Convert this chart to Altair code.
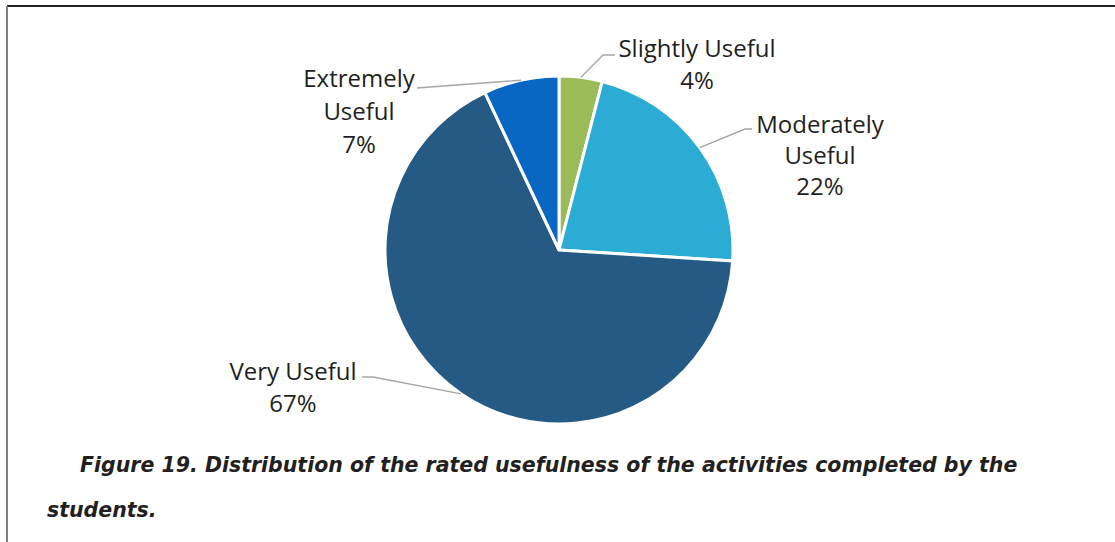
import math
import altair as alt
import pandas as pd

# ---- data ----
CATEGORIES = ["Slightly Useful", "Moderately Useful", "Very Useful", "Extremely Useful"]
PERCENTS = [4, 22, 67, 7]
LABEL_LINES = [["Slightly Useful", "4%"],
               ["Moderately", "Useful", "22%"],
               ["Very Useful", "67%"],
               ["Extremely", "Useful", "7%"]]
COLORS = ["#9BBB59", "#2BACD4", "#255A85", "#0767C2"]
CAPTION = ["Figure 19. Distribution of the rated usefulness of the activities completed by the",
           "students."]

# ---- layout (pixels) ----
W, H = 1115, 542
CX, CY, R = 559, 250, 174
LABEL_POS = [(697, 50, 32), (820, 126, 31), (293, 373, 32), (359, 80, 33)]   # x, first-line y, line height
LEADER_PTS = [[(603, 55), (615, 55)], [(745, 129), (752, 129)],
              [(373, 377), (362, 377)], [(417, 88)]]
FONT = "Open Sans"
CAP_FONT = "DejaVu Sans"

pie_df = pd.DataFrame({"cat": CATEGORIES, "pct": PERCENTS, "idx": range(len(CATEGORIES))})

# leader lines: start on the pie edge at each slice's mid-angle
total = sum(PERCENTS)
rows = []
cum = 0
for i, (cat, p) in enumerate(zip(CATEGORIES, PERCENTS)):
    mid = (cum + p / 2) / total * 2 * math.pi
    cum += p
    pts = [(CX + R * math.sin(mid), CY - R * math.cos(mid))] + LEADER_PTS[i]
    for k, (px, py) in enumerate(pts):
        rows.append({"cat": cat, "k": k, "px": px, "py": py})
lead_df = pd.DataFrame(rows)

lab_rows = []
for i, lines in enumerate(LABEL_LINES):
    lx, ly, lh = LABEL_POS[i]
    for j, t in enumerate(lines):
        lab_rows.append({"t": t, "px": lx, "py": ly + j * lh})
lab_df = pd.DataFrame(lab_rows)

xs = alt.Scale(domain=[0, W], range=[0, W])
ys = alt.Scale(domain=[0, H], range=[0, H])

pie = alt.Chart(pie_df).mark_arc(outerRadius=R, stroke="white", strokeWidth=3).encode(
    theta=alt.Theta("pct:Q", stack=True),
    order=alt.Order("idx:Q"),
    color=alt.Color("cat:N", scale=alt.Scale(domain=CATEGORIES, range=COLORS), legend=None),
    x=alt.value(CX), y=alt.value(CY),
)

leaders = alt.Chart(lead_df).mark_line(color="#A6A6A6", strokeWidth=1.4).encode(
    x=alt.X("px:Q", scale=xs, axis=None),
    y=alt.Y("py:Q", scale=ys, axis=None),
    detail="cat:N",
    order="k:Q",
)

labels = alt.Chart(lab_df).mark_text(font=FONT, fontSize=24, color="#1F1F1F",
                                     align="center", baseline="middle").encode(
    x=alt.X("px:Q", scale=xs, axis=None),
    y=alt.Y("py:Q", scale=ys, axis=None),
    text="t:N",
)

cap1 = alt.Chart(pd.DataFrame({"t": [CAPTION[0]]})).mark_text(
    font=CAP_FONT, fontSize=20.5, fontStyle="italic", fontWeight="bold", color="#231F20",
    align="left", baseline="middle").encode(x=alt.value(80), y=alt.value(466), text="t:N")
cap2 = alt.Chart(pd.DataFrame({"t": [CAPTION[1]]})).mark_text(
    font=CAP_FONT, fontSize=20.5, fontStyle="italic", fontWeight="bold", color="#231F20",
    align="left", baseline="middle").encode(x=alt.value(47), y=alt.value(511), text="t:N")

frame_top = alt.Chart(pd.DataFrame({"a": [0]})).mark_rule(color="#222222", strokeWidth=2).encode(
    x=alt.value(7), x2=alt.value(W), y=alt.value(6))
frame_left = alt.Chart(pd.DataFrame({"a": [0]})).mark_rule(color="#808080", strokeWidth=2).encode(
    x=alt.value(7), y=alt.value(6), y2=alt.value(H))

chart = alt.layer(frame_top, frame_left, pie, leaders, labels, cap1, cap2).properties(
    width=W, height=H, padding=0, autosize=alt.AutoSizeParams(type="none"),
    background="white",
).configure_view(strokeWidth=0)

chart.save("out.html", embed_options={"renderer": "svg", "actions": False})
